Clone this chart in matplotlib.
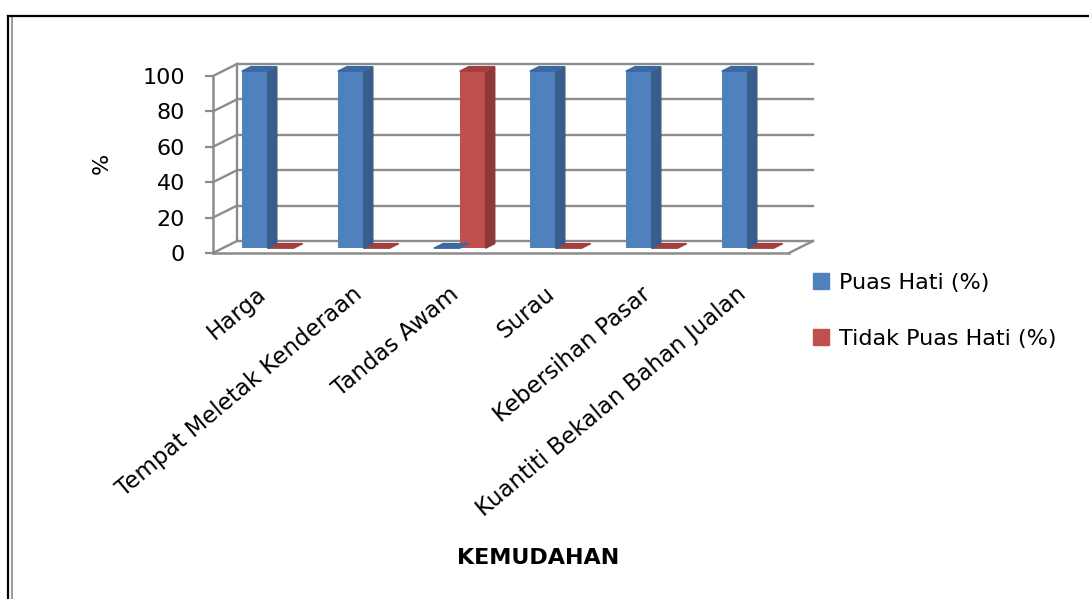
import numpy as np
import matplotlib
matplotlib.use('Agg')
import matplotlib.pyplot as plt
from matplotlib.patches import Polygon, Patch
from matplotlib.lines import Line2D

categories = ['Harga', 'Tempat Meletak Kenderaan', 'Tandas Awam', 'Surau',
              'Kebersihan Pasar', 'Kuantiti Bekalan Bahan Jualan']
puas_hati = [100, 100, 0, 100, 100, 100]
tidak_puas_hati = [0, 0, 100, 0, 0, 0]
series_names = ['Puas Hati (%)', 'Tidak Puas Hati (%)']
yticks = [0, 20, 40, 60, 80, 100]

# face colours: front, side, top
BLUE = ('#4f81bd', '#385d8a', '#3d69a3')
RED = ('#c0504d', '#8c3a37', '#a33f3c')
GRID = '#8c8c8c'

# fake 3d: depth of the floor in data units, and where bars sit in it
DX, DY = 0.25, 6.78
F0, F1 = 0.40, 0.78
W = 0.27
SHIFT = -0.03

plt.rcParams['font.family'] = 'DejaVu Sans'

fig = plt.figure(figsize=(10.89, 5.99), dpi=100)
ax = fig.add_axes([213 / 1089, 346 / 599, 600 / 1089, 191 / 599])
ax.set_xlim(-0.5, 5.75)
ax.set_ylim(0, 107.9)
ax.patch.set_visible(False)

# walls and floor
for v in yticks:
    ax.plot([-0.5 + DX, 5.5 + DX], [v + DY, v + DY], color=GRID, lw=1.7,
            zorder=1, clip_on=False)
    ax.plot([-0.5, -0.5 + DX], [v, v + DY], color=GRID, lw=1.7, zorder=1,
            clip_on=False)
ax.plot([-0.5 + DX, -0.5 + DX], [DY, 100 + DY], color=GRID, lw=1.7, zorder=1,
        clip_on=False)
ax.plot([5.5, 5.5 + DX], [0, DY], color=GRID, lw=1.7, zorder=1, clip_on=False)

for sp in ['top', 'right']:
    ax.spines[sp].set_visible(False)
ax.spines['left'].set_bounds(0, 100)
ax.spines['bottom'].set_bounds(-0.5, 5.5)
for sp in ['left', 'bottom']:
    ax.spines[sp].set_color(GRID)
    ax.spines[sp].set_linewidth(1.8)

ax.set_yticks(yticks)
ax.tick_params(axis='y', length=6, width=1.6, color=GRID, pad=14, labelsize=16)
ax.set_xticks([])


def bar3d(ax, xc, v, cols, z):
    x0 = xc - W / 2
    x1 = xc + W / 2
    if v > 0:
        ax.bar(xc + F0 * DX, v, width=W, bottom=F0 * DY, color=cols[0],
               zorder=z, clip_on=False)
        side = [(x1 + F0 * DX, F0 * DY), (x1 + F1 * DX, F1 * DY),
                (x1 + F1 * DX, v + F1 * DY), (x1 + F0 * DX, v + F0 * DY)]
        ax.add_patch(Polygon(side, closed=True, color=cols[1], zorder=z,
                             clip_on=False))
    top = [(x0 + F0 * DX, v + F0 * DY), (x1 + F0 * DX, v + F0 * DY),
           (x1 + F1 * DX, v + F1 * DY), (x0 + F1 * DX, v + F1 * DY)]
    ax.add_patch(Polygon(top, closed=True, color=cols[2], zorder=z,
                         clip_on=False))


x = np.arange(len(categories))
for i in x:
    bar3d(ax, i + SHIFT + W / 2, tidak_puas_hati[i], RED, 3)
    bar3d(ax, i + SHIFT - W / 2, puas_hati[i], BLUE, 4)

for i, lab in enumerate(categories):
    ax.text(i - 0.05, -16.5, lab, rotation=40, rotation_mode='anchor',
            ha='right', va='top', fontsize=16.5, clip_on=False)

ax.set_ylabel('%', fontsize=16)
ax.yaxis.set_label_coords(-101 / 600, 0.47)

fig.text(538 / 1089, 1 - 558 / 599, 'KEMUDAHAN', ha='center', va='center',
         fontsize=16, fontweight='bold')

handles = [Patch(color=BLUE[0]), Patch(color=RED[0])]
fig.legend(handles, series_names, loc='upper left',
           bbox_to_anchor=(813 / 1089, 1 - 273 / 599), frameon=False,
           borderpad=0, borderaxespad=0, handlelength=0.7, handleheight=0.7,
           handletextpad=0.45, labelspacing=1.6, fontsize=16)

# double frame round the chart
fig.add_artist(Line2D([8 / 1089, 8 / 1089], [0, 1 - 16 / 599], color='black',
                      lw=1.6, transform=fig.transFigure))
fig.add_artist(Line2D([12 / 1089, 12 / 1089], [0, 1 - 18 / 599],
                      color='#999999', lw=1.4, transform=fig.transFigure))
fig.add_artist(Line2D([8 / 1089, 1], [1 - 16 / 599, 1 - 16 / 599],
                      color='black', lw=1.6, transform=fig.transFigure))

fig.savefig('out.png', dpi=100)
